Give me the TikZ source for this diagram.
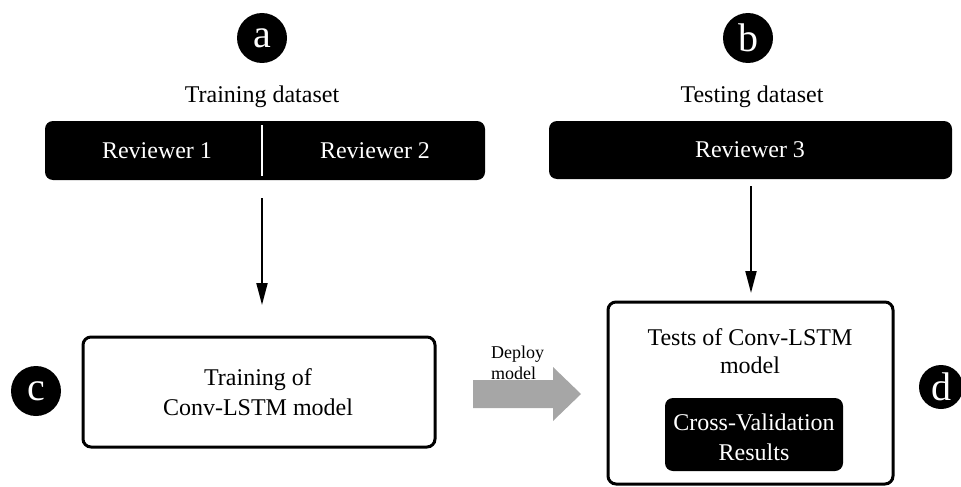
\documentclass[tikz,border=0pt]{standalone}
\usepackage{fontspec}
\setmainfont{Liberation Serif}
\usetikzlibrary{arrows.meta}
\definecolor{deploygray}{RGB}{166,166,166}
\begin{document}
\begin{tikzpicture}[x=1pt,y=-1pt,
  letter/.style={circle,fill=black,text=white,minimum size=50pt,inner sep=0pt,font=\fontsize{40}{40}\selectfont},
  bar/.style={fill=black,rounded corners=8pt,inner sep=0pt},
  wtext/.style={text=white,font=\fontsize{24}{30}\selectfont,align=center,inner sep=0pt},
  btext/.style={text=black,font=\fontsize{24}{30}\selectfont,align=center,inner sep=0pt},
  whitebox/.style={draw=black,line width=3pt,rounded corners=8pt,fill=white,inner sep=0pt},
  arr/.style={draw=black,line width=2pt,-{Triangle[width=11pt,length=22pt]}},
  deploy/.style={font=\fontsize{18}{21}\selectfont,align=left,inner sep=0pt,anchor=west}]
\useasboundingbox (0,0) rectangle (961,487);

% top labels
\node[letter] (la) at (262,38) {a};
\node[letter] (lb) at (748,38) {b};
\node[btext] (trainds) at (262,97) {Training dataset};
\node[btext] (testds) at (752,97) {Testing dataset};

% bars
\node[bar,minimum width=440pt,minimum height=59pt] (barA) at (265,150.5) {};
\node[bar,minimum width=403pt,minimum height=58pt] (barB) at (750.5,150) {};
\coordinate (divT) at (262,125);
\coordinate (divB) at (262,176);
\draw[white,line width=1.5pt] (divT) -- (divB);
\node[wtext] (rev1) at (157,151) {Reviewer 1};
\node[wtext] (rev2) at (375,151) {Reviewer 2};
\node[wtext] (rev3) at (750,150) {Reviewer 3};

% training box
\node[whitebox,minimum width=352pt,minimum height=110pt] (boxC) at (259,392) {};
\node[btext] (trainmodel) at (258,392) {Training of\\Conv-LSTM model};
\node[letter] (lc) at (36,391) {c};

% test box
\node[whitebox,minimum width=285pt,minimum height=182pt] (boxD) at (750.5,393) {};
\node[btext,font=\fontsize{24}{28}\selectfont] (testmodel) at (750,351) {Tests of Conv-LSTM\\model};
\node[bar,minimum width=178pt,minimum height=73pt] (cvbox) at (754,434.5) {};
\node[wtext] (cvtext) at (754,437) {Cross-Validation\\Results};
\node[letter,minimum size=44pt] (ld) at (941,387) {d};

% vertical arrows
\coordinate (a1s) at (262,198);
\coordinate (a1e) at (262,305);
\coordinate (a2s) at (751,186);
\coordinate (a2e) at (751,293);
\draw[arr] (a1s) -- (a1e);
\draw[arr] (a2s) -- (a2e);

% deploy arrow
\fill[deploygray] (473,380) -- (553,380) -- (553,367) -- (581,394) -- (553,421) -- (553,408) -- (473,408) -- cycle;
\node[deploy] (deploytxt) at (491,363) {Deploy\\model};
\end{tikzpicture}
\end{document}
